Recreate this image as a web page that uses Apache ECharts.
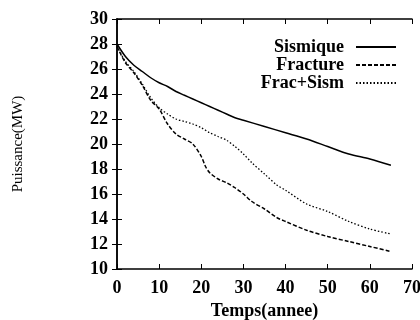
<!DOCTYPE html>
<html>
<head>
<meta charset="utf-8">
<script src="https://cdn.jsdelivr.net/npm/echarts@6/dist/echarts.min.js"></script>
<style>
  html, body { margin: 0; padding: 0; background: #fff; }
  #main { width: 420px; height: 320px; }
</style>
</head>
<body>
<div id="main"></div>
<script>
// valeurs (temps en annees, puissance en MW)
var sismiqueT = [0, 2, 4, 6, 8, 10, 12, 14, 16, 18, 20, 22, 24, 26, 28, 30, 35, 40, 45, 50, 55, 60, 65];
var sismiqueP = [28.0, 27.0, 26.3, 25.8, 25.3, 24.9, 24.6, 24.2, 23.9, 23.6, 23.3, 23.0, 22.7, 22.4, 22.1, 21.9, 21.4, 20.9, 20.4, 19.8, 19.2, 18.8, 18.3];

var fractureT = [0, 2, 4, 6, 8, 10, 12, 14, 16, 18, 20, 21, 22, 24, 26, 28, 30, 32, 35, 38, 40, 45, 50, 55, 60, 65];
var fractureP = [27.8, 26.5, 25.7, 24.7, 23.5, 22.8, 21.6, 20.8, 20.4, 20.0, 19.0, 18.2, 17.7, 17.2, 16.9, 16.5, 16.0, 15.4, 14.8, 14.1, 13.8, 13.1, 12.6, 12.2, 11.8, 11.4];

var fracSismT = [0, 2, 4, 6, 8, 10, 12, 14, 16, 18, 20, 22, 24, 26, 28, 30, 32, 35, 38, 40, 45, 50, 55, 60, 65];
var fracSismP = [27.8, 26.6, 25.8, 24.8, 23.7, 22.9, 22.4, 22.0, 21.8, 21.6, 21.3, 20.9, 20.6, 20.3, 19.8, 19.2, 18.5, 17.6, 16.7, 16.3, 15.2, 14.6, 13.8, 13.2, 12.8];

var xTicks = [0, 10, 20, 30, 40, 50, 60, 70];
var yTicks = [10, 12, 14, 16, 18, 20, 22, 24, 26, 28, 30];

function pairs(t, p) {
    var out = [];
    for (var i = 0; i < t.length; i++) {
        out.push([t[i], p[i]]);
    }
    return out;
}

var police = '"Liberation Serif", "DejaVu Serif", serif';

var myChart = echarts.init(document.getElementById('main'));

var option = {
    animation: false,
    backgroundColor: '#fff',
    grid: { left: 117, right: 8, top: 19, bottom: 51, outerBoundsMode: 'none' },
    legend: {
        right: 18,
        top: 33,
        orient: 'vertical',
        align: 'right',
        itemGap: 0,
        itemWidth: 40,
        itemHeight: 17,
        itemStyle: { opacity: 0 },
        textStyle: { fontFamily: police, fontSize: 18, lineHeight: 17, fontWeight: 'bold', color: '#000', padding: [0, 7, 0, 0] },
        data: ['Sismique', 'Fracture', 'Frac+Sism']
    },
    xAxis: [
        {
            type: 'value',
            min: xTicks[0],
            max: xTicks[xTicks.length - 1],
            interval: 10,
            name: 'Temps(annee)',
            nameLocation: 'middle',
            nameGap: 26,
            nameTextStyle: { fontFamily: police, fontSize: 18, fontWeight: 'bold', color: '#000' },
            axisLine: { lineStyle: { color: '#000', width: 1.5 } },
            axisTick: { inside: true, length: 5, lineStyle: { color: '#000' } },
            axisLabel: { fontFamily: police, fontSize: 18, fontWeight: 'bold', color: '#000', margin: 10 },
            splitLine: { show: false }
        },
        {
            type: 'value',
            position: 'top',
            min: xTicks[0],
            max: xTicks[xTicks.length - 1],
            interval: 10,
            axisLine: { lineStyle: { color: '#000', width: 1.5 } },
            axisTick: { inside: true, length: 5, lineStyle: { color: '#000' } },
            axisLabel: { show: false },
            splitLine: { show: false }
        }
    ],
    yAxis: [
        {
            type: 'value',
            min: yTicks[0],
            max: yTicks[yTicks.length - 1],
            interval: 2,
            name: 'Puissance(MW)',
            nameLocation: 'middle',
            nameGap: 91,
            nameTextStyle: { fontFamily: police, fontSize: 15, color: '#000' },
            axisLine: { lineStyle: { color: '#000', width: 1.5 } },
            axisTick: { inside: true, length: 5, lineStyle: { color: '#000' } },
            axisLabel: { fontFamily: police, fontSize: 18, fontWeight: 'bold', color: '#000', margin: 9 },
            splitLine: { show: false }
        },
        {
            type: 'value',
            position: 'right',
            min: yTicks[0],
            max: yTicks[yTicks.length - 1],
            interval: 2,
            axisLine: { lineStyle: { color: '#000', width: 1.5 } },
            axisTick: { inside: true, length: 5, lineStyle: { color: '#000' } },
            axisLabel: { show: false },
            splitLine: { show: false }
        }
    ],
    series: [
        {
            name: 'Sismique',
            type: 'line',
            symbol: 'none',
            smooth: 0.3,
            lineStyle: { color: '#000', width: 1.5, type: 'solid' },
            itemStyle: { color: '#000' },
            data: pairs(sismiqueT, sismiqueP)
        },
        {
            name: 'Fracture',
            type: 'line',
            symbol: 'none',
            smooth: 0.3,
            lineStyle: { color: '#000', width: 1.5, type: [4, 2] },
            itemStyle: { color: '#000' },
            data: pairs(fractureT, fractureP)
        },
        {
            name: 'Frac+Sism',
            type: 'line',
            symbol: 'none',
            smooth: 0.3,
            lineStyle: { color: '#000', width: 1.3, type: [1.5, 2] },
            itemStyle: { color: '#000' },
            data: pairs(fracSismT, fracSismP)
        }
    ]
};

myChart.setOption(option);
</script>
</body>
</html>
